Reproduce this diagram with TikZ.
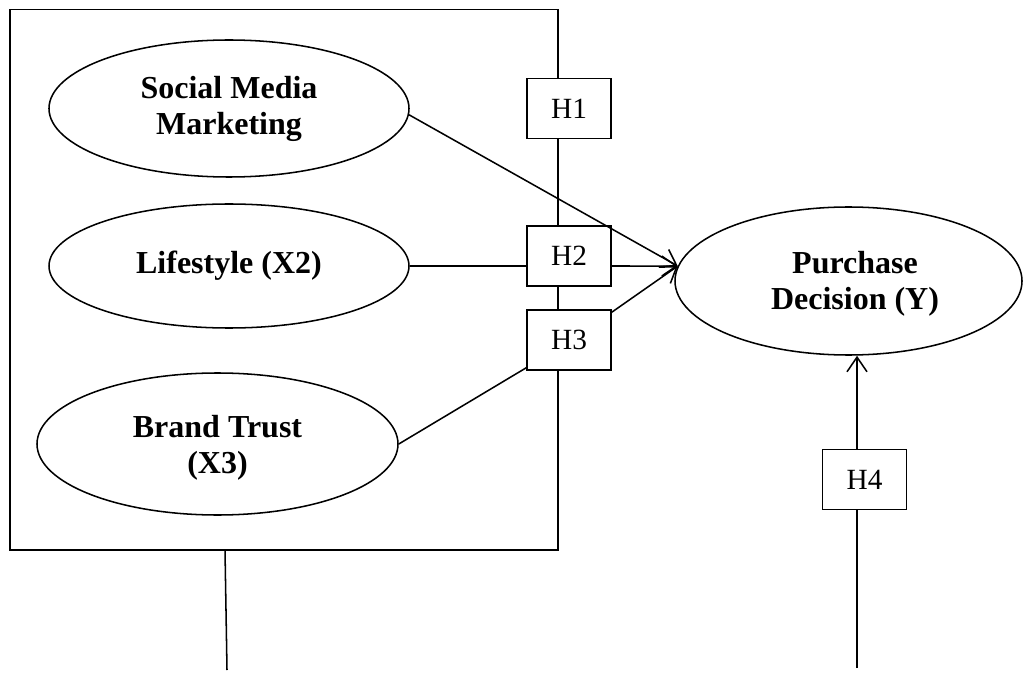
\documentclass[tikz,border=0pt]{standalone}
\usepackage{fontspec}
\setmainfont{Liberation Serif}
\usetikzlibrary{shapes.geometric,arrows.meta}

\begin{document}
\begin{tikzpicture}[x=0.75pt,y=0.75pt,yscale=-1,xscale=1,
  line width=1.15pt,
  latent/.style={draw,ellipse,inner sep=0pt,fill=white},
  hbox/.style={draw,fill=white,minimum width=63pt,minimum height=45pt,inner sep=0pt,font=\fontsize{22}{26}\selectfont},
  vlabel/.style={align=center,inner sep=0pt,font=\fontsize{24}{27}\selectfont\bfseries},
  arr/.style={-{Straight Barb[length=11pt,width=15pt]}}]
\useasboundingbox (0,0) rectangle (1024,677);

%Shape: Rectangle [id:grp]
\node [draw,minimum width=411pt,minimum height=405.4pt,inner sep=0pt] (grp) at (284,279.75) {};

%Shape: Ellipse [id:smm]
\node [latent,minimum width=270pt,minimum height=102.75pt] (smm) at (229,108.5) {};
%Shape: Ellipse [id:ls]
\node [latent,minimum width=270pt,minimum height=93pt] (ls) at (229,266) {};
%Shape: Ellipse [id:bt]
\node [latent,minimum width=270.75pt,minimum height=106.5pt] (bt) at (217.5,444) {};
%Shape: Ellipse [id:pd]
\node [latent,minimum width=260.25pt,minimum height=111pt] (pd) at (848.5,281) {};

%Shape: Rectangle [id:h1]
\node [hbox] (h1) at (569,108.5) {H1};
%Shape: Rectangle [id:h2]
\node [hbox] (h2) at (569,256) {H2};
%Shape: Rectangle [id:h3]
\node [hbox] (h3) at (569,340) {H3};
%Shape: Rectangle [id:h4]
\node [hbox] (h4) at (864.5,479.5) {H4};

% Text Node
\node [vlabel] (smmtxt) at (smm) {Social Media\\Marketing};
% Text Node
\node [vlabel] (lstxt) at (ls) {Lifestyle (X2)};
% Text Node
\node [vlabel] (bttxt) at (217.5,448) {Brand Trust\\(X3)};
% Text Node
\node [vlabel] (pdtxt) at (855,284) {Purchase\\Decision (Y)};

%Straight Lines
\draw [arr] (smm.-2) -- (pd.175);
\draw (ls.east) -- (ls.east -| h2.west);
\draw [arr] (ls.east -| h2.east) -- (pd.175);
\draw (bt.east) -- (h3.213);
\draw [arr] (h3.33) -- (pd.175);

%Straight Lines
\coordinate (gtop) at (225,550);
\coordinate (gend) at (227,670);
\draw (gtop) -- (gend);

%Straight Lines
\coordinate (hend) at (857,668);
\draw (hend) -- (hend |- h4.south);
\draw [arr] (hend |- h4.north) -- (hend |- pd.south);

\end{tikzpicture}
\end{document}
